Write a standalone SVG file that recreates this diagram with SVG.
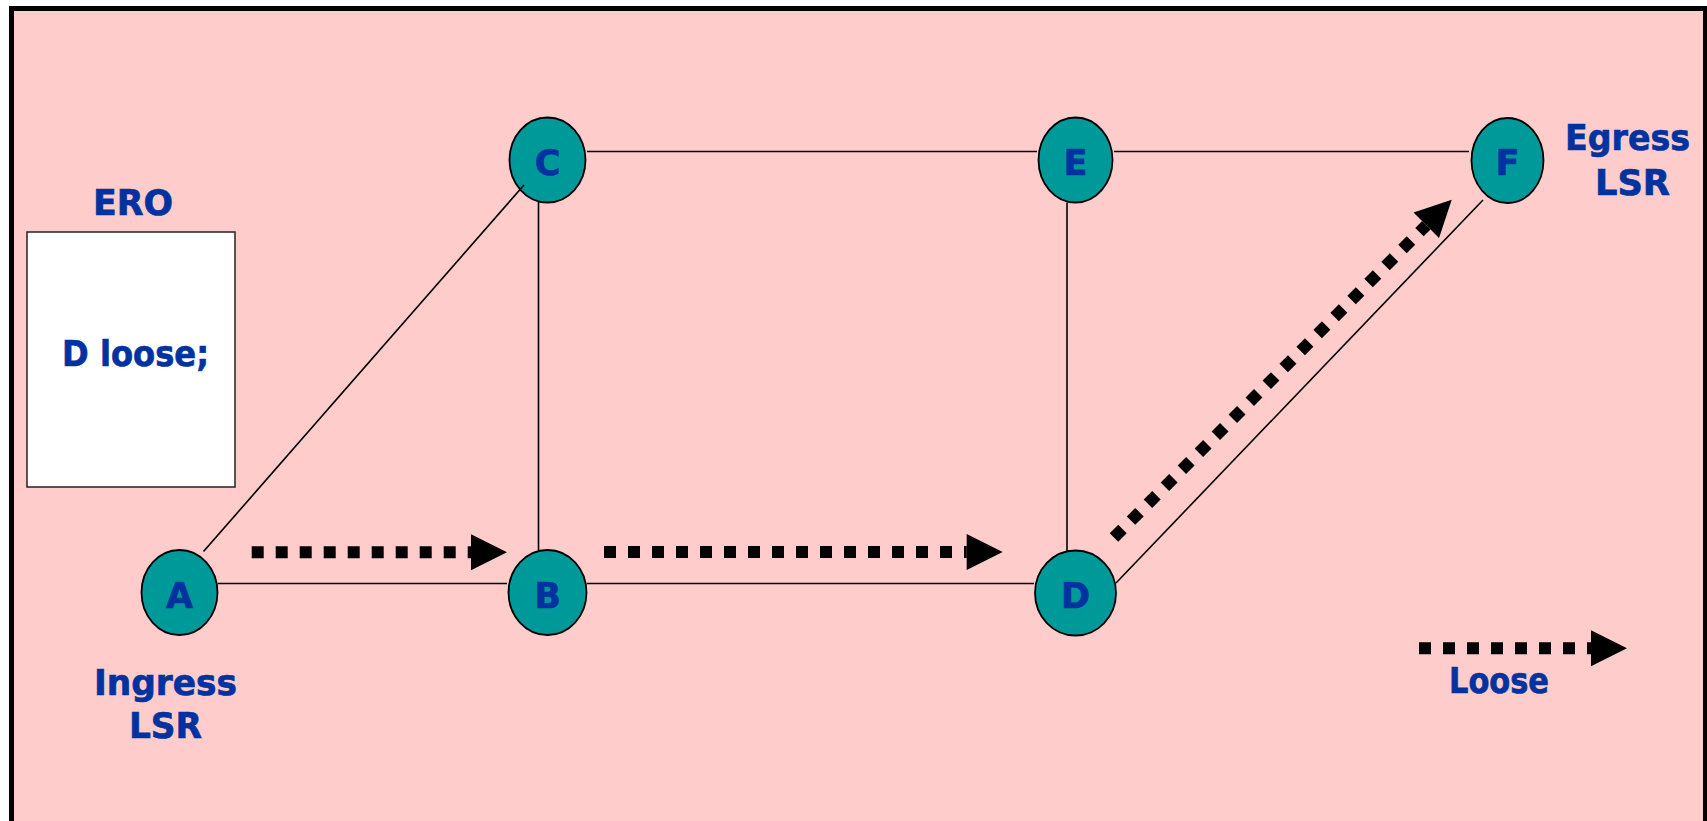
<svg xmlns="http://www.w3.org/2000/svg" width="1707" height="821" viewBox="0 0 1707 821">
  <defs>
    <style>
      .frame { fill: #FFCCCC; stroke: #000; stroke-width: 5; }
      .ero-box { fill: #FFFFFF; stroke: #222; stroke-width: 1.5; }
      .node { fill: #009999; stroke: #000; stroke-width: 1.8; }
      .link { stroke: #000; stroke-width: 1.6; fill: none; }
      .loose { stroke: #000; stroke-width: 12; stroke-dasharray: 12 12; fill: none; marker-end: url(#head); }
      .lbl { font-family: "DejaVu Sans", Verdana, sans-serif; font-weight: bold; font-size: 36px; fill: #0033A0; stroke: #0033A0; stroke-width: 0.7; }
      .nid { font-family: "DejaVu Sans", Verdana, sans-serif; font-weight: bold; font-size: 35px; fill: #0033A0; stroke: #0033A0; stroke-width: 0.7; text-anchor: middle; }
    </style>
    <!-- solid triangular head, base sits at the end of the dotted line -->
    <marker id="head" markerUnits="userSpaceOnUse" markerWidth="37" markerHeight="37" refX="0" refY="18" orient="auto" overflow="visible">
      <path d="M0,0 L36,18 L0,36 Z" fill="#000" stroke="none"/>
    </marker>
  </defs>

  <!-- background panel -->
  <rect width="1707" height="821" fill="#FFFFFF"/>
  <rect class="frame" x="11.5" y="8.5" width="1694" height="830"/>

  <!-- ERO list -->
  <g id="ero">
    <text class="lbl" x="93" y="215" textLength="80" lengthAdjust="spacingAndGlyphs">ERO</text>
    <rect class="ero-box" x="27" y="232" width="208" height="255"/>
    <text class="lbl" x="62" y="366" textLength="147" lengthAdjust="spacingAndGlyphs">D loose;</text>
  </g>

  <!-- routers -->
  <g id="node-A">
    <ellipse class="node" cx="179.5" cy="592.5" rx="38" ry="42.5"/>
    <text class="nid" x="179.5" y="607.5">A</text>
  </g>
  <g id="node-B">
    <ellipse class="node" cx="547.5" cy="592.5" rx="39" ry="42.5"/>
    <text class="nid" x="547.5" y="607.5">B</text>
  </g>
  <g id="node-C">
    <ellipse class="node" cx="547.5" cy="160" rx="38" ry="42.5"/>
    <text class="nid" x="547.5" y="175">C</text>
  </g>
  <g id="node-D">
    <ellipse class="node" cx="1075.5" cy="593" rx="40.5" ry="42.5"/>
    <text class="nid" x="1075.5" y="607.5">D</text>
  </g>
  <g id="node-E">
    <ellipse class="node" cx="1075.5" cy="160" rx="37" ry="42.5"/>
    <text class="nid" x="1075.5" y="175">E</text>
  </g>
  <g id="node-F">
    <ellipse class="node" cx="1507.5" cy="160.5" rx="36" ry="42.5"/>
    <text class="nid" x="1507.5" y="175">F</text>
  </g>

  <!-- router roles -->
  <g id="ingress-label">
    <text class="lbl" x="94" y="695" textLength="143" lengthAdjust="spacingAndGlyphs">Ingress</text>
    <text class="lbl" x="129" y="738" textLength="73" lengthAdjust="spacingAndGlyphs">LSR</text>
  </g>
  <g id="egress-label">
    <text class="lbl" x="1565" y="150" textLength="125" lengthAdjust="spacingAndGlyphs">Egress</text>
    <text class="lbl" x="1595" y="195" textLength="75" lengthAdjust="spacingAndGlyphs">LSR</text>
  </g>

  <!-- links and loose hops -->
  <g id="connectors">
    <line class="link" x1="218" y1="583.5" x2="507" y2="583.5"/>
    <line class="link" x1="587" y1="583.5" x2="1034" y2="583.5"/>
    <line class="link" x1="587" y1="151.5" x2="1037" y2="151.5"/>
    <line class="link" x1="1114" y1="151.5" x2="1469" y2="151.5"/>
    <line class="link" x1="538.5" y1="202" x2="538.5" y2="550"/>
    <line class="link" x1="1067" y1="202.5" x2="1067" y2="551"/>
    <line class="link" x1="203.5" y1="551.5" x2="524" y2="185"/>
    <line class="link" x1="1116" y1="583" x2="1483" y2="200"/>

    <line class="loose" x1="251.7" y1="552.3" x2="471" y2="552.3"/>
    <line class="loose" x1="604" y1="552" x2="966.7" y2="552"/>
    <line class="loose" x1="1114" y1="537.6" x2="1426.3" y2="225.3"/>
  </g>

  <!-- legend -->
  <g id="legend">
    <line class="loose" x1="1419" y1="648.2" x2="1591" y2="648.2"/>
    <text class="lbl" x="1449" y="692.7" textLength="100" lengthAdjust="spacingAndGlyphs">Loose</text>
  </g>
</svg>
